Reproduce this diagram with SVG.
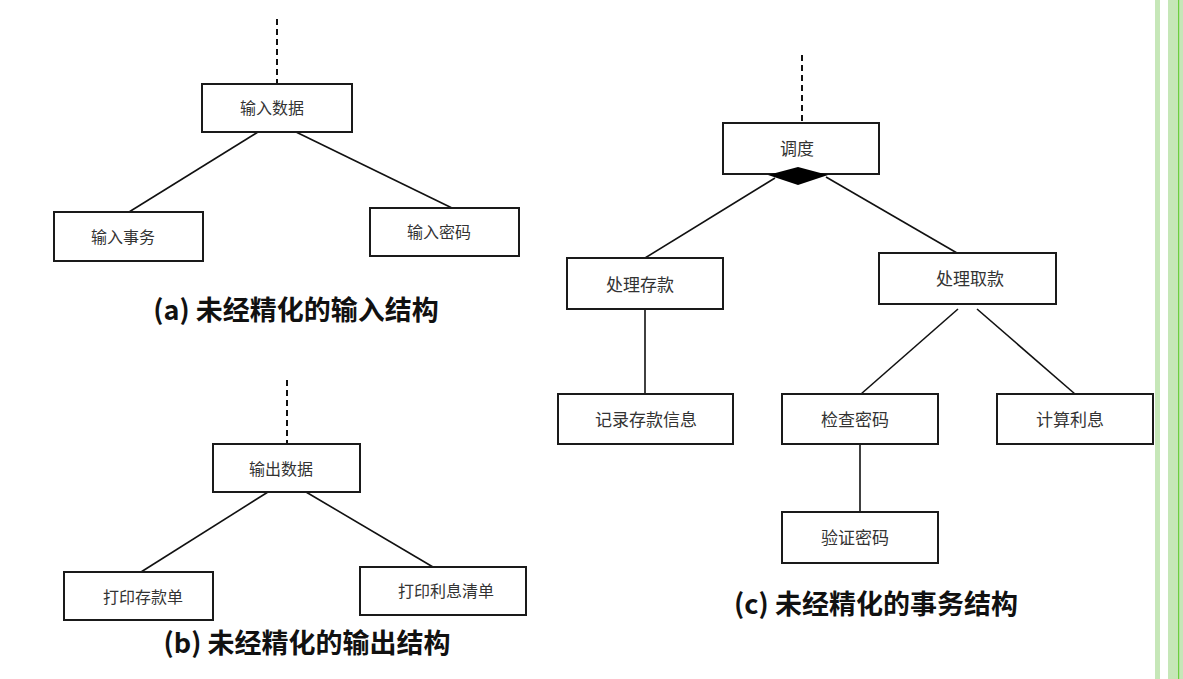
<svg xmlns="http://www.w3.org/2000/svg" width="1183" height="679" viewBox="0 0 1183 679">
<style>
.box{fill:#fff;stroke:#1a1a1a;stroke-width:2}
.lbl{font-family:"Liberation Serif","Noto Sans CJK SC",serif;font-size:16px;fill:#333;text-anchor:middle;dominant-baseline:central}
.lbl17{font-size:17px}
.ln{stroke:#111;stroke-width:1.6;fill:none}
.dash{stroke:#111;stroke-width:2;stroke-dasharray:6 4;fill:none}
.cap{font-family:"Noto Sans CJK SC","Noto Sans",sans-serif;font-weight:bold;font-size:27px;fill:#111;text-anchor:middle}
</style>
<rect x="0" y="0" width="1183" height="679" fill="#fff"/>
<g id="side-stripe">
<rect x="1155" y="0" width="5" height="679" fill="#c6e7b8"/>
<rect x="1168" y="0" width="15" height="679" fill="#c6e7b8"/>
<rect x="1178" y="0" width="1.2" height="679" fill="#6ccf3f"/>
</g>
<g id="connectors">
<line class="dash" x1="277" y1="19" x2="277" y2="84"/>
<line class="ln" x1="258" y1="132" x2="129" y2="212"/>
<line class="ln" x1="296" y1="132" x2="452" y2="208"/>
<line class="dash" x1="287" y1="380" x2="287" y2="444"/>
<line class="ln" x1="268" y1="492" x2="141" y2="572"/>
<line class="ln" x1="306" y1="492" x2="433" y2="567"/>
<line class="dash" x1="802" y1="55" x2="802" y2="123"/>
<line class="ln" x1="775" y1="178" x2="645" y2="258"/>
<line class="ln" x1="826" y1="177" x2="957" y2="253"/>
<line class="ln" x1="645" y1="309" x2="645" y2="394"/>
<line class="ln" x1="958" y1="309" x2="861" y2="394"/>
<line class="ln" x1="977" y1="309" x2="1075" y2="394"/>
<line class="ln" x1="860" y1="444" x2="860" y2="512"/>
</g>
<g id="n-input-data"><rect class="box" x="202" y="84" width="150" height="48"/><text class="lbl" x="272" y="108">输入数据</text></g>
<g id="n-input-tx"><rect class="box" x="54" y="212" width="149" height="49"/><text class="lbl" x="123" y="237">输入事务</text></g>
<g id="n-input-pw"><rect class="box" x="370" y="208" width="149" height="48"/><text class="lbl" x="439" y="232">输入密码</text></g>
<text class="cap" x="296" y="320">(a) 未经精化的输入结构</text>
<g id="n-output-data"><rect class="box" x="213" y="444" width="147" height="48"/><text class="lbl" x="281" y="469">输出数据</text></g>
<g id="n-print-deposit"><rect class="box" x="64" y="572" width="149" height="48"/><text class="lbl" x="143" y="597">打印存款单</text></g>
<g id="n-print-interest"><rect class="box" x="360" y="567" width="166" height="48"/><text class="lbl" x="446" y="591">打印利息清单</text></g>
<text class="cap" x="307" y="653">(b) 未经精化的输出结构</text>
<g id="n-dispatch"><rect class="box" x="723" y="123" width="156" height="51"/><text class="lbl lbl17" x="797" y="149">调度</text>
<polygon points="768,175 798,167 828,175 798,185" fill="#000"/></g>
<g id="n-deposit"><rect class="box" x="567" y="258" width="156" height="51"/><text class="lbl lbl17" x="640" y="285">处理存款</text></g>
<g id="n-withdraw"><rect class="box" x="879" y="253" width="177" height="51"/><text class="lbl lbl17" x="970" y="279">处理取款</text></g>
<g id="n-record"><rect class="box" x="558" y="394" width="175" height="50"/><text class="lbl lbl17" x="646" y="420">记录存款信息</text></g>
<g id="n-check-pw"><rect class="box" x="782" y="394" width="156" height="50"/><text class="lbl lbl17" x="855" y="420">检查密码</text></g>
<g id="n-interest"><rect class="box" x="997" y="394" width="156" height="50"/><text class="lbl lbl17" x="1070" y="420">计算利息</text></g>
<g id="n-verify-pw"><rect class="box" x="782" y="512" width="156" height="51"/><text class="lbl lbl17" x="855" y="538">验证密码</text></g>
<text class="cap" x="876" y="614">(c) 未经精化的事务结构</text>
</svg>
